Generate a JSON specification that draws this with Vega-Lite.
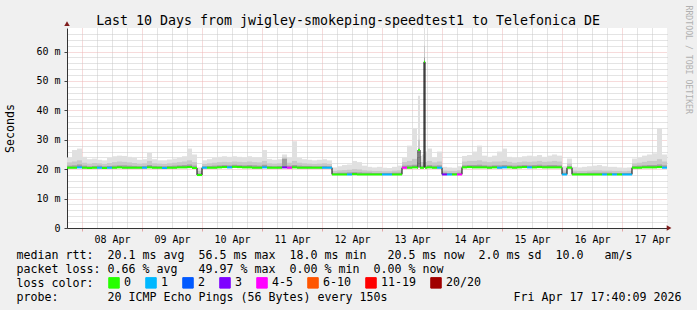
{
  "$schema": "https://vega.github.io/schema/vega-lite/v6.json",
  "width": 600,
  "height": 200,
  "autosize": {"type": "none"},
  "padding": {"left": 67, "top": 28, "right": 30, "bottom": 82},
  "background": "#f0f0f0",
  "title": {
    "text": "Last 10 Days from jwigley-smokeping-speedtest1 to Telefonica DE",
    "font": "DejaVu Sans Mono", "fontSize": 13.29, "fontWeight": "normal", "color": "#000000",
    "anchor": "middle", "dx": -19, "baseline": "alphabetic", "offset": 4, "dy": 37
  },
  "config": {
    "view": {"fill": "#ffffff", "stroke": null},
    "font": "DejaVu Sans Mono"
  },
  "data": {"values": [
    {"t":"2026-04-07T18:00","e":"2026-04-07T20:00","m":20.5,"c":21.2,"s":22.3,"h":24.0,"l":"0"},
    {"t":"2026-04-07T20:00","e":"2026-04-07T22:00","m":20.5,"c":21.3,"s":22.6,"h":26.5,"l":"0"},
    {"t":"2026-04-07T22:00","e":"2026-04-08T00:00","m":20.6,"c":21.6,"s":23.0,"h":27.0,"l":"1"},
    {"t":"2026-04-08T00:00","e":"2026-04-08T02:00","m":20.5,"c":21.2,"s":22.2,"h":24.2,"l":"0"},
    {"t":"2026-04-08T02:00","e":"2026-04-08T04:00","m":20.4,"c":21.0,"s":21.9,"h":23.4,"l":"0"},
    {"t":"2026-04-08T04:00","e":"2026-04-08T06:00","m":20.5,"c":21.1,"s":22.1,"h":23.6,"l":"0"},
    {"t":"2026-04-08T06:00","e":"2026-04-08T08:00","m":20.5,"c":21.2,"s":22.0,"h":23.2,"l":"1"},
    {"t":"2026-04-08T08:00","e":"2026-04-08T10:00","m":20.4,"c":21.0,"s":21.8,"h":23.0,"l":"0"},
    {"t":"2026-04-08T10:00","e":"2026-04-08T12:00","m":20.5,"c":21.1,"s":22.1,"h":23.8,"l":"1"},
    {"t":"2026-04-08T12:00","e":"2026-04-08T14:00","m":20.5,"c":21.2,"s":22.4,"h":24.4,"l":"0"},
    {"t":"2026-04-08T14:00","e":"2026-04-08T16:00","m":20.6,"c":21.3,"s":22.6,"h":24.6,"l":"0"},
    {"t":"2026-04-08T16:00","e":"2026-04-08T18:00","m":20.5,"c":21.3,"s":22.5,"h":24.5,"l":"0"},
    {"t":"2026-04-08T18:00","e":"2026-04-08T20:00","m":20.5,"c":21.2,"s":22.3,"h":24.2,"l":"0"},
    {"t":"2026-04-08T20:00","e":"2026-04-08T22:00","m":20.5,"c":21.1,"s":22.1,"h":23.8,"l":"0"},
    {"t":"2026-04-08T22:00","e":"2026-04-09T00:00","m":20.5,"c":21.0,"s":21.9,"h":23.2,"l":"0"},
    {"t":"2026-04-09T00:00","e":"2026-04-09T02:00","m":20.5,"c":21.1,"s":22.0,"h":23.4,"l":"1"},
    {"t":"2026-04-09T02:00","e":"2026-04-09T04:00","m":20.6,"c":21.4,"s":22.8,"h":25.5,"l":"0"},
    {"t":"2026-04-09T04:00","e":"2026-04-09T06:00","m":20.5,"c":21.1,"s":22.0,"h":23.4,"l":"0"},
    {"t":"2026-04-09T06:00","e":"2026-04-09T08:00","m":20.5,"c":21.0,"s":21.9,"h":23.0,"l":"0"},
    {"t":"2026-04-09T08:00","e":"2026-04-09T10:00","m":20.4,"c":21.0,"s":21.8,"h":23.0,"l":"1"},
    {"t":"2026-04-09T10:00","e":"2026-04-09T12:00","m":20.5,"c":21.1,"s":22.0,"h":23.3,"l":"0"},
    {"t":"2026-04-09T12:00","e":"2026-04-09T14:00","m":20.5,"c":21.2,"s":22.2,"h":23.6,"l":"0"},
    {"t":"2026-04-09T14:00","e":"2026-04-09T16:00","m":20.6,"c":21.3,"s":22.4,"h":24.0,"l":"0"},
    {"t":"2026-04-09T16:00","e":"2026-04-09T18:00","m":20.6,"c":21.4,"s":22.6,"h":24.4,"l":"0"},
    {"t":"2026-04-09T18:00","e":"2026-04-09T20:00","m":20.7,"c":21.6,"s":23.0,"h":27.0,"l":"0"},
    {"t":"2026-04-09T20:00","e":"2026-04-09T22:00","m":20.4,"c":21.2,"s":22.4,"h":25.0,"l":"0"},
    {"t":"2026-04-09T22:00","e":"2026-04-10T00:00","m":18.0,"c":18.6,"s":19.4,"h":20.6,"l":"0"},
    {"t":"2026-04-10T00:00","e":"2026-04-10T02:00","m":20.5,"c":21.0,"s":21.8,"h":23.0,"l":"1"},
    {"t":"2026-04-10T02:00","e":"2026-04-10T04:00","m":20.5,"c":21.1,"s":22.0,"h":23.4,"l":"0"},
    {"t":"2026-04-10T04:00","e":"2026-04-10T06:00","m":20.5,"c":21.2,"s":22.2,"h":23.8,"l":"0"},
    {"t":"2026-04-10T06:00","e":"2026-04-10T08:00","m":20.6,"c":21.3,"s":22.4,"h":24.2,"l":"0"},
    {"t":"2026-04-10T08:00","e":"2026-04-10T10:00","m":20.7,"c":21.4,"s":22.5,"h":24.4,"l":"0"},
    {"t":"2026-04-10T10:00","e":"2026-04-10T12:00","m":20.6,"c":21.3,"s":22.4,"h":24.2,"l":"1"},
    {"t":"2026-04-10T12:00","e":"2026-04-10T14:00","m":20.8,"c":21.5,"s":22.6,"h":24.4,"l":"0"},
    {"t":"2026-04-10T14:00","e":"2026-04-10T16:00","m":20.7,"c":21.4,"s":22.5,"h":24.2,"l":"0"},
    {"t":"2026-04-10T16:00","e":"2026-04-10T18:00","m":20.6,"c":21.3,"s":22.4,"h":24.0,"l":"0"},
    {"t":"2026-04-10T18:00","e":"2026-04-10T20:00","m":20.6,"c":21.4,"s":22.6,"h":24.4,"l":"0"},
    {"t":"2026-04-10T20:00","e":"2026-04-10T22:00","m":20.5,"c":21.3,"s":22.4,"h":24.0,"l":"0"},
    {"t":"2026-04-10T22:00","e":"2026-04-11T00:00","m":20.5,"c":21.2,"s":22.3,"h":24.0,"l":"0"},
    {"t":"2026-04-11T00:00","e":"2026-04-11T02:00","m":20.6,"c":21.5,"s":22.8,"h":26.5,"l":"1"},
    {"t":"2026-04-11T02:00","e":"2026-04-11T04:00","m":20.5,"c":21.1,"s":22.0,"h":23.5,"l":"0"},
    {"t":"2026-04-11T04:00","e":"2026-04-11T06:00","m":20.5,"c":21.0,"s":21.9,"h":23.2,"l":"0"},
    {"t":"2026-04-11T06:00","e":"2026-04-11T08:00","m":20.5,"c":21.1,"s":22.0,"h":23.4,"l":"0"},
    {"t":"2026-04-11T08:00","e":"2026-04-11T10:00","m":20.6,"c":23.5,"s":24.0,"h":25.0,"l":"3"},
    {"t":"2026-04-11T10:00","e":"2026-04-11T12:00","m":20.5,"c":21.2,"s":22.2,"h":24.0,"l":"4-5"},
    {"t":"2026-04-11T12:00","e":"2026-04-11T14:00","m":20.6,"c":21.4,"s":22.8,"h":29.5,"l":"0"},
    {"t":"2026-04-11T14:00","e":"2026-04-11T16:00","m":20.5,"c":21.2,"s":22.2,"h":23.8,"l":"0"},
    {"t":"2026-04-11T16:00","e":"2026-04-11T18:00","m":20.5,"c":21.1,"s":22.0,"h":23.4,"l":"0"},
    {"t":"2026-04-11T18:00","e":"2026-04-11T20:00","m":20.5,"c":21.1,"s":21.9,"h":23.2,"l":"0"},
    {"t":"2026-04-11T20:00","e":"2026-04-11T22:00","m":20.5,"c":21.0,"s":21.8,"h":23.0,"l":"0"},
    {"t":"2026-04-11T22:00","e":"2026-04-12T00:00","m":20.5,"c":21.0,"s":21.9,"h":23.2,"l":"0"},
    {"t":"2026-04-12T00:00","e":"2026-04-12T02:00","m":20.5,"c":21.1,"s":22.0,"h":23.4,"l":"1"},
    {"t":"2026-04-12T02:00","e":"2026-04-12T04:00","m":20.5,"c":21.0,"s":21.8,"h":23.0,"l":"1"},
    {"t":"2026-04-12T04:00","e":"2026-04-12T06:00","m":18.2,"c":18.7,"s":19.4,"h":20.6,"l":"0"},
    {"t":"2026-04-12T06:00","e":"2026-04-12T08:00","m":18.2,"c":18.8,"s":19.6,"h":21.0,"l":"0"},
    {"t":"2026-04-12T08:00","e":"2026-04-12T10:00","m":18.2,"c":18.8,"s":19.7,"h":21.4,"l":"0"},
    {"t":"2026-04-12T10:00","e":"2026-04-12T12:00","m":18.2,"c":18.9,"s":19.8,"h":21.6,"l":"1"},
    {"t":"2026-04-12T12:00","e":"2026-04-12T14:00","m":18.3,"c":19.0,"s":20.0,"h":22.8,"l":"0"},
    {"t":"2026-04-12T14:00","e":"2026-04-12T16:00","m":18.2,"c":18.9,"s":19.9,"h":22.4,"l":"0"},
    {"t":"2026-04-12T16:00","e":"2026-04-12T18:00","m":18.2,"c":18.8,"s":19.6,"h":21.2,"l":"0"},
    {"t":"2026-04-12T18:00","e":"2026-04-12T20:00","m":18.2,"c":18.8,"s":19.5,"h":20.8,"l":"0"},
    {"t":"2026-04-12T20:00","e":"2026-04-12T22:00","m":18.2,"c":18.7,"s":19.4,"h":20.6,"l":"0"},
    {"t":"2026-04-12T22:00","e":"2026-04-13T00:00","m":18.2,"c":18.7,"s":19.4,"h":20.8,"l":"0"},
    {"t":"2026-04-13T00:00","e":"2026-04-13T02:00","m":18.2,"c":18.7,"s":19.3,"h":20.5,"l":"1"},
    {"t":"2026-04-13T02:00","e":"2026-04-13T04:00","m":18.2,"c":18.7,"s":19.3,"h":20.4,"l":"1"},
    {"t":"2026-04-13T04:00","e":"2026-04-13T06:00","m":18.2,"c":18.8,"s":19.5,"h":20.8,"l":"0"},
    {"t":"2026-04-13T06:00","e":"2026-04-13T08:00","m":18.2,"c":18.8,"s":19.6,"h":21.2,"l":"0"},
    {"t":"2026-04-13T08:00","e":"2026-04-13T10:00","m":20.5,"c":21.2,"s":22.4,"h":24.0,"l":"4-5"},
    {"t":"2026-04-13T10:00","e":"2026-04-13T12:00","m":20.5,"c":21.3,"s":22.8,"h":28.0,"l":"0"},
    {"t":"2026-04-13T12:00","e":"2026-04-13T14:00","m":20.6,"c":21.5,"s":23.5,"h":34.0,"l":"0"},
    {"t":"2026-04-13T14:00","e":"2026-04-13T14:24","m":20.5,"c":21.2,"s":22.4,"h":24.0,"l":"0"},
    {"t":"2026-04-13T14:24","e":"2026-04-13T15:12","m":26.5,"c":27.0,"s":30.0,"h":45.0,"l":"0"},
    {"t":"2026-04-13T15:12","e":"2026-04-13T16:00","m":20.5,"c":21.2,"s":22.4,"h":24.5,"l":"0"},
    {"t":"2026-04-13T16:00","e":"2026-04-13T16:48","m":20.5,"c":21.2,"s":22.4,"h":25.0,"l":"0"},
    {"t":"2026-04-13T16:48","e":"2026-04-13T17:12","m":56.5,"c":58.0,"s":62.0,"h":68.0,"l":"0"},
    {"t":"2026-04-13T17:12","e":"2026-04-13T18:00","m":20.5,"c":21.2,"s":22.4,"h":26.0,"l":"0"},
    {"t":"2026-04-13T18:00","e":"2026-04-13T20:00","m":20.6,"c":21.4,"s":22.8,"h":27.0,"l":"0"},
    {"t":"2026-04-13T20:00","e":"2026-04-13T22:00","m":20.5,"c":21.2,"s":22.3,"h":24.0,"l":"0"},
    {"t":"2026-04-13T22:00","e":"2026-04-14T00:00","m":20.5,"c":21.3,"s":22.6,"h":26.0,"l":"1"},
    {"t":"2026-04-14T00:00","e":"2026-04-14T02:00","m":18.2,"c":18.8,"s":19.5,"h":20.8,"l":"3"},
    {"t":"2026-04-14T02:00","e":"2026-04-14T04:00","m":18.2,"c":18.7,"s":19.4,"h":20.6,"l":"1"},
    {"t":"2026-04-14T04:00","e":"2026-04-14T06:00","m":18.2,"c":18.7,"s":19.4,"h":20.5,"l":"0"},
    {"t":"2026-04-14T06:00","e":"2026-04-14T08:00","m":18.2,"c":18.8,"s":19.6,"h":21.0,"l":"4-5"},
    {"t":"2026-04-14T08:00","e":"2026-04-14T10:00","m":20.6,"c":21.3,"s":22.6,"h":24.5,"l":"0"},
    {"t":"2026-04-14T10:00","e":"2026-04-14T12:00","m":20.7,"c":21.4,"s":22.8,"h":24.8,"l":"0"},
    {"t":"2026-04-14T12:00","e":"2026-04-14T14:00","m":20.6,"c":21.4,"s":22.8,"h":26.0,"l":"0"},
    {"t":"2026-04-14T14:00","e":"2026-04-14T16:00","m":20.6,"c":21.5,"s":23.0,"h":28.0,"l":"0"},
    {"t":"2026-04-14T16:00","e":"2026-04-14T18:00","m":20.6,"c":21.3,"s":22.6,"h":24.6,"l":"0"},
    {"t":"2026-04-14T18:00","e":"2026-04-14T20:00","m":20.5,"c":21.2,"s":22.4,"h":24.2,"l":"0"},
    {"t":"2026-04-14T20:00","e":"2026-04-14T22:00","m":20.6,"c":21.3,"s":22.6,"h":24.6,"l":"0"},
    {"t":"2026-04-14T22:00","e":"2026-04-15T00:00","m":20.5,"c":21.3,"s":22.6,"h":26.0,"l":"1"},
    {"t":"2026-04-15T00:00","e":"2026-04-15T02:00","m":20.6,"c":21.4,"s":22.8,"h":27.0,"l":"1"},
    {"t":"2026-04-15T02:00","e":"2026-04-15T04:00","m":20.6,"c":21.3,"s":22.5,"h":24.2,"l":"0"},
    {"t":"2026-04-15T04:00","e":"2026-04-15T06:00","m":20.5,"c":21.2,"s":22.2,"h":23.8,"l":"0"},
    {"t":"2026-04-15T06:00","e":"2026-04-15T08:00","m":20.6,"c":21.3,"s":22.4,"h":24.0,"l":"0"},
    {"t":"2026-04-15T08:00","e":"2026-04-15T10:00","m":20.7,"c":21.4,"s":22.6,"h":24.4,"l":"0"},
    {"t":"2026-04-15T10:00","e":"2026-04-15T12:00","m":20.6,"c":21.3,"s":22.5,"h":24.6,"l":"1"},
    {"t":"2026-04-15T12:00","e":"2026-04-15T14:00","m":20.6,"c":21.4,"s":22.6,"h":24.4,"l":"0"},
    {"t":"2026-04-15T14:00","e":"2026-04-15T16:00","m":20.7,"c":21.5,"s":22.8,"h":24.8,"l":"0"},
    {"t":"2026-04-15T16:00","e":"2026-04-15T18:00","m":20.6,"c":21.3,"s":22.5,"h":24.2,"l":"0"},
    {"t":"2026-04-15T18:00","e":"2026-04-15T20:00","m":20.6,"c":21.4,"s":22.6,"h":24.6,"l":"0"},
    {"t":"2026-04-15T20:00","e":"2026-04-15T22:00","m":20.6,"c":21.4,"s":22.8,"h":25.0,"l":"0"},
    {"t":"2026-04-15T22:00","e":"2026-04-16T00:00","m":20.6,"c":21.3,"s":22.6,"h":24.6,"l":"0"},
    {"t":"2026-04-16T00:00","e":"2026-04-16T02:00","m":18.2,"c":18.8,"s":19.6,"h":21.0,"l":"1"},
    {"t":"2026-04-16T02:00","e":"2026-04-16T04:00","m":20.5,"c":21.1,"s":22.0,"h":23.6,"l":"0"},
    {"t":"2026-04-16T04:00","e":"2026-04-16T06:00","m":18.2,"c":18.8,"s":19.5,"h":20.8,"l":"0"},
    {"t":"2026-04-16T06:00","e":"2026-04-16T08:00","m":18.2,"c":18.7,"s":19.4,"h":20.6,"l":"0"},
    {"t":"2026-04-16T08:00","e":"2026-04-16T10:00","m":18.2,"c":18.7,"s":19.4,"h":20.8,"l":"0"},
    {"t":"2026-04-16T10:00","e":"2026-04-16T12:00","m":18.2,"c":18.8,"s":19.5,"h":21.0,"l":"0"},
    {"t":"2026-04-16T12:00","e":"2026-04-16T14:00","m":18.2,"c":18.8,"s":19.6,"h":21.2,"l":"0"},
    {"t":"2026-04-16T14:00","e":"2026-04-16T16:00","m":18.2,"c":18.8,"s":19.6,"h":21.4,"l":"0"},
    {"t":"2026-04-16T16:00","e":"2026-04-16T18:00","m":18.2,"c":18.8,"s":19.5,"h":21.0,"l":"1"},
    {"t":"2026-04-16T18:00","e":"2026-04-16T20:00","m":18.2,"c":18.8,"s":19.5,"h":20.8,"l":"0"},
    {"t":"2026-04-16T20:00","e":"2026-04-16T22:00","m":18.2,"c":18.7,"s":19.4,"h":20.8,"l":"1"},
    {"t":"2026-04-16T22:00","e":"2026-04-17T00:00","m":18.2,"c":18.7,"s":19.4,"h":20.6,"l":"0"},
    {"t":"2026-04-17T00:00","e":"2026-04-17T02:00","m":18.2,"c":18.7,"s":19.3,"h":20.5,"l":"1"},
    {"t":"2026-04-17T02:00","e":"2026-04-17T04:00","m":18.2,"c":18.7,"s":19.4,"h":20.6,"l":"1"},
    {"t":"2026-04-17T04:00","e":"2026-04-17T06:00","m":20.5,"c":21.1,"s":22.0,"h":23.6,"l":"0"},
    {"t":"2026-04-17T06:00","e":"2026-04-17T08:00","m":20.5,"c":21.2,"s":22.2,"h":24.0,"l":"0"},
    {"t":"2026-04-17T08:00","e":"2026-04-17T10:00","m":20.6,"c":21.3,"s":22.5,"h":24.6,"l":"0"},
    {"t":"2026-04-17T10:00","e":"2026-04-17T12:00","m":20.6,"c":21.4,"s":22.8,"h":25.0,"l":"0"},
    {"t":"2026-04-17T12:00","e":"2026-04-17T14:00","m":20.6,"c":21.4,"s":22.8,"h":25.4,"l":"0"},
    {"t":"2026-04-17T14:00","e":"2026-04-17T16:00","m":20.7,"c":21.6,"s":23.4,"h":34.0,"l":"0"},
    {"t":"2026-04-17T16:00","e":"2026-04-17T18:00","m":20.5,"c":21.3,"s":22.6,"h":25.0,"l":"1"}
  ]},
  "resolve": {"axis": {"x": "independent", "y": "independent"}},
  "layer": [
    {
      "mark": {"type": "rect", "color": "#e0e0e0"},
      "encoding": {
        "x": {"field": "t", "type": "temporal",
          "scale": {"domain": [{"year": 2026, "month": 4, "date": 7, "hours": 18}, {"year": 2026, "month": 4, "date": 17, "hours": 18}], "nice": false},
          "axis": {"orient": "bottom", "title": null, "labels": false, "ticks": false, "domain": false,
            "grid": true, "gridColor": "#c8c8c8", "gridDash": [1, 1], "gridWidth": 1,
            "values": [
              {"year": 2026, "month": 4, "date": 8, "hours": 6}, {"year": 2026, "month": 4, "date": 8, "hours": 12}, {"year": 2026, "month": 4, "date": 8, "hours": 18},
              {"year": 2026, "month": 4, "date": 9, "hours": 6}, {"year": 2026, "month": 4, "date": 9, "hours": 12}, {"year": 2026, "month": 4, "date": 9, "hours": 18},
              {"year": 2026, "month": 4, "date": 10, "hours": 6}, {"year": 2026, "month": 4, "date": 10, "hours": 12}, {"year": 2026, "month": 4, "date": 10, "hours": 18},
              {"year": 2026, "month": 4, "date": 11, "hours": 6}, {"year": 2026, "month": 4, "date": 11, "hours": 12}, {"year": 2026, "month": 4, "date": 11, "hours": 18},
              {"year": 2026, "month": 4, "date": 12, "hours": 6}, {"year": 2026, "month": 4, "date": 12, "hours": 12}, {"year": 2026, "month": 4, "date": 12, "hours": 18},
              {"year": 2026, "month": 4, "date": 13, "hours": 6}, {"year": 2026, "month": 4, "date": 13, "hours": 12}, {"year": 2026, "month": 4, "date": 13, "hours": 18},
              {"year": 2026, "month": 4, "date": 14, "hours": 6}, {"year": 2026, "month": 4, "date": 14, "hours": 12}, {"year": 2026, "month": 4, "date": 14, "hours": 18},
              {"year": 2026, "month": 4, "date": 15, "hours": 6}, {"year": 2026, "month": 4, "date": 15, "hours": 12}, {"year": 2026, "month": 4, "date": 15, "hours": 18},
              {"year": 2026, "month": 4, "date": 16, "hours": 6}, {"year": 2026, "month": 4, "date": 16, "hours": 12}, {"year": 2026, "month": 4, "date": 16, "hours": 18},
              {"year": 2026, "month": 4, "date": 17, "hours": 6}, {"year": 2026, "month": 4, "date": 17, "hours": 12}
            ]}},
        "x2": {"field": "e"},
        "y": {"field": "m", "type": "quantitative",
          "scale": {"domain": [0, 68], "nice": false},
          "axis": {"orient": "right", "labels": false, "ticks": false, "domain": false,
            "grid": true, "gridColor": "#c8c8c8", "gridDash": [1, 1], "gridWidth": 1,
            "values": [2, 4, 6, 8, 12, 14, 16, 18, 22, 24, 26, 28, 32, 34, 36, 38, 42, 44, 46, 48, 52, 54, 56, 58, 62, 64, 66],
            "title": "RRDTOOL / TOBI OETIKER", "titleAngle": 90, "titleFont": "DejaVu Sans Mono", "titleFontSize": 8.2,
            "titleFontWeight": "normal", "titleColor": "#b0b0b0", "titleX": 20.5, "titleY": -23,
            "titleAlign": "left", "titleBaseline": "middle"}},
        "y2": {"field": "h"}
      }
    },
    {
      "mark": {"type": "rect", "color": "#c8c8c8"},
      "encoding": {
        "x": {"field": "t", "type": "temporal",
          "axis": {"orient": "bottom",
            "values": [
              {"year": 2026, "month": 4, "date": 8}, {"year": 2026, "month": 4, "date": 9}, {"year": 2026, "month": 4, "date": 10},
              {"year": 2026, "month": 4, "date": 11}, {"year": 2026, "month": 4, "date": 12}, {"year": 2026, "month": 4, "date": 13},
              {"year": 2026, "month": 4, "date": 14}, {"year": 2026, "month": 4, "date": 15}, {"year": 2026, "month": 4, "date": 16},
              {"year": 2026, "month": 4, "date": 17}
            ],
            "format": "%d %b", "labelOffset": 30, "labelFlush": false, "labelOverlap": false,
            "labelFont": "DejaVu Sans Mono", "labelFontSize": 10, "labelColor": "#000000", "labelPadding": 3,
            "tickSize": 3, "tickColor": "#e3a3a3", "domainColor": "#333333",
            "grid": true, "gridColor": "#efb6b6", "gridDash": [1, 1], "gridWidth": 1,
            "title": [
              "median\u00a0rtt:\u00a0\u00a020.1\u00a0ms\u00a0avg\u00a0\u00a056.5\u00a0ms\u00a0max\u00a0\u00a018.0\u00a0ms\u00a0min\u00a0\u00a0\u00a020.5\u00a0ms\u00a0now\u00a0\u00a02.0\u00a0ms\u00a0sd\u00a0\u00a010.0\u00a0\u00a0\u00a0am/s",
              "packet\u00a0loss:\u00a00.66\u00a0%\u00a0avg\u00a0\u00a0\u00a049.97\u00a0%\u00a0max\u00a0\u00a00.00\u00a0%\u00a0min\u00a0\u00a00.00\u00a0%\u00a0now",
              "loss\u00a0color:",
              "probe:\u00a0\u00a0\u00a0\u00a0\u00a0\u00a0\u00a020\u00a0ICMP\u00a0Echo\u00a0Pings\u00a0(56\u00a0Bytes)\u00a0every\u00a0150s\u00a0\u00a0\u00a0\u00a0\u00a0\u00a0\u00a0\u00a0\u00a0\u00a0\u00a0\u00a0\u00a0\u00a0\u00a0\u00a0\u00a0\u00a0Fri\u00a0Apr\u00a017\u00a017:40:09\u00a02026"
            ],
            "titleFont": "DejaVu Sans Mono", "titleFontSize": 11.63, "titleFontWeight": "normal", "titleColor": "#000000",
            "titleX": -51, "titleY": 30.3, "titleAlign": "left", "titleAnchor": "start", "titleBaseline": "alphabetic",
            "titleLineHeight": 14}},
        "x2": {"field": "e"},
        "y": {"field": "m", "type": "quantitative",
          "axis": {"orient": "left", "values": [0, 10, 20, 30, 40, 50, 60],
            "labelExpr": "datum.value == 0 ? '0' : datum.value + ' m'",
            "labelFont": "DejaVu Sans Mono", "labelFontSize": 10, "labelColor": "#000000", "labelPadding": 4,
            "tickSize": 3, "tickColor": "#444444", "domainColor": "#333333",
            "grid": true, "gridColor": "#efb6b6", "gridDash": [1, 1], "gridWidth": 1,
            "title": "Seconds", "titleFont": "DejaVu Sans Mono", "titleFontSize": 11.63, "titleFontWeight": "normal",
            "titleColor": "#000000", "titleX": -57, "titleY": 100, "titleAlign": "center", "titleBaseline": "middle", "titleAngle": -90}},
        "y2": {"field": "s"}
      }
    },
    {
      "mark": {"type": "rect", "color": "#a0a0a0"},
      "encoding": {
        "x": {"field": "t", "type": "temporal", "axis": null},
        "x2": {"field": "e"},
        "y": {"field": "m", "type": "quantitative", "axis": null},
        "y2": {"field": "c"}
      }
    },
    {
      "mark": {"type": "line", "interpolate": "step-after", "color": "#000000", "strokeWidth": 1},
      "encoding": {
        "x": {"field": "t", "type": "temporal", "axis": null},
        "y": {"field": "m", "type": "quantitative", "axis": null}
      }
    },
    {
      "mark": {"type": "rule", "strokeWidth": 2, "strokeCap": "butt", "opacity": 1},
      "encoding": {
        "x": {"field": "t", "type": "temporal", "axis": null},
        "x2": {"field": "e"},
        "y": {"field": "m", "type": "quantitative", "axis": null},
        "color": {"field": "l", "type": "nominal",
          "scale": {"domain": ["0", "1", "2", "3", "4-5", "6-10", "11-19", "20/20"],
                    "range": ["#26ff00", "#00b8ff", "#0059ff", "#7e00ff", "#ff00ff", "#ff5500", "#ff0000", "#a10000"]},
          "legend": {"orient": "none", "legendX": 41, "legendY": 248.5, "direction": "horizontal",
            "title": null,
            "labelFont": "DejaVu Sans Mono", "labelFontSize": 11.63, "labelColor": "#000000", "labelOffset": 4,
            "columnPadding": 12, "padding": 0, "symbolType": "square", "symbolSize": 110,
            "symbolStrokeColor": "#000000", "symbolStrokeWidth": 1, "symbolOpacity": 1,
            "encode": {"symbols": {"update": {"fill": {"scale": "color", "field": "value"}, "stroke": {"value": "#000000"}, "strokeWidth": {"value": 1}, "opacity": {"value": 1}}}}}}
      }
    },
    {
      "data": {"values": [{"arrow": "y"}]},
      "mark": {"type": "point", "shape": "triangle-up", "filled": true, "size": 30, "color": "#7f1d1d", "opacity": 1},
      "encoding": {
        "x": {"datum": {"year": 2026, "month": 4, "date": 7, "hours": 18}, "type": "temporal", "axis": null},
        "y": {"datum": 69.5, "type": "quantitative", "axis": null}
      }
    },
    {
      "data": {"values": [{"arrow": "x"}]},
      "mark": {"type": "point", "shape": "triangle-right", "filled": true, "size": 30, "color": "#7f1d1d", "opacity": 1},
      "encoding": {
        "x": {"datum": {"year": 2026, "month": 4, "date": 17, "hours": 18, "minutes": 50}, "type": "temporal", "axis": null},
        "y": {"datum": 0, "type": "quantitative", "axis": null}
      }
    }
  ]
}
